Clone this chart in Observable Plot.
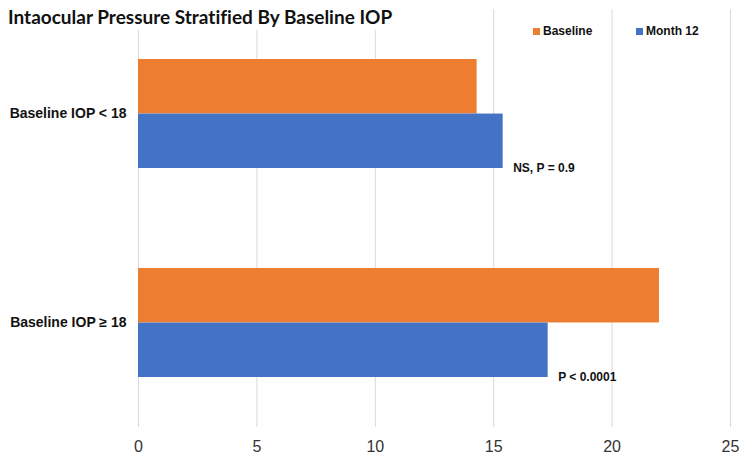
<!DOCTYPE html>
<html>
<head>
<meta charset="utf-8">
<script src="https://cdn.jsdelivr.net/npm/d3@7"></script>
<script src="https://cdn.jsdelivr.net/npm/@observablehq/plot@0.6"></script>
<style>
  html, body { margin: 0; padding: 0; background: #fff; }
  #wrap { position: relative; width: 750px; height: 457px; overflow: hidden; }
  #title { position: absolute; left: 0; top: 0; padding: 7px 8px 3px 8px; background: #fff;
           font-family: Lato, "Open Sans", sans-serif; font-weight: 700; font-size: 19px; color: #111; line-height: 20px;
           font-variant-ligatures: none; z-index: 2; }
  .leg { position: absolute; top: 23px; font-family: "Liberation Sans", Arial, sans-serif; font-weight: 700;
         font-size: 12px; color: #111; line-height: 16px; display: flex; align-items: center; z-index: 2; }
  .sw { width: 7px; height: 7px; display: inline-block; margin-right: 3px; }
</style>
</head>
<body>
<div id="wrap">
  <div id="title">Intaocular Pressure Stratified By Baseline IOP</div>
  <div id="legend"></div>
  <div id="chart"></div>
</div>
<script>
const categories = ["Baseline IOP < 18", "Baseline IOP \u2265 18"];
const baselineValues = [14.3, 22.0];
const month12Values = [15.4, 17.3];
const pLabels = ["NS, P = 0.9", "P < 0.0001"];
const seriesNames = ["Baseline", "Month 12"];
const seriesColors = ["#ED7D31", "#4472C4"];
const xTicks = [0, 5, 10, 15, 20, 25];

const data = categories.map((c, i) => ({
  category: c, baseline: baselineValues[i], month12: month12Values[i], p: pLabels[i]
}));

const W = 750, H = 457;
const mTop = 9, mBottom = 30, mLeft = 138, mRight = 20;
const padIn = 0.478, padOut = 0.239;
const step = (H - mTop - mBottom) / (categories.length - padIn + 2 * padOut);
const bw = step * (1 - padIn);

const chart = Plot.plot({
  width: W, height: H,
  marginTop: mTop, marginBottom: mBottom, marginLeft: mLeft, marginRight: mRight,
  style: { background: "white", fontFamily: "'Liberation Sans', Arial, sans-serif" },
  x: { domain: [0, 25] },
  y: { domain: categories, paddingInner: padIn, paddingOuter: padOut },
  marks: [
    Plot.ruleX(xTicks, { stroke: "#d9d9d9", strokeWidth: 1 }),
    Plot.barX(data, { y: "category", x: "baseline", fill: seriesColors[0], insetBottom: bw / 2 }),
    Plot.barX(data, { y: "category", x: "month12", fill: seriesColors[1], insetTop: bw / 2 }),
    Plot.text(data, { y: "category", x: "month12", text: "p", dx: 10, dy: bw / 2, textAnchor: "start",
                      fontSize: 12, fontWeight: "bold", fill: "#111", fontFamily: "'Liberation Sans', Arial, sans-serif" }),
    Plot.axisY({ tickSize: 0, tickPadding: 12, fontSize: 14, fontWeight: "bold", label: null, color: "#111",
                 fontFamily: "'Liberation Sans', Arial, sans-serif" }),
    Plot.axisX({ ticks: xTicks, tickSize: 0, tickPadding: 13, fontSize: 16, label: null, color: "#333",
                 fontFamily: "'Liberation Sans', Arial, sans-serif" })
  ]
});
document.getElementById("chart").appendChild(chart);

const legend = document.getElementById("legend");
const legendX = [533, 636];
seriesNames.forEach((name, i) => {
  const d = document.createElement("div");
  d.className = "leg";
  d.style.left = legendX[i] + "px";
  d.innerHTML = `<span class="sw" style="background:${seriesColors[i]}"></span>${name}`;
  legend.appendChild(d);
});
</script>
</body>
</html>
